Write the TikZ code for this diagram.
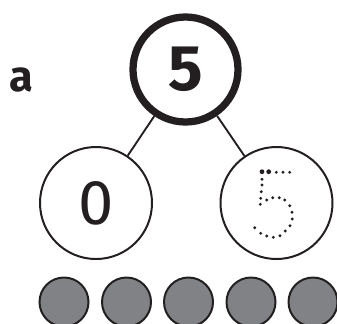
\documentclass[tikz,border=0pt]{standalone}
\usepackage{fontspec}
\setmainfont{Fira Sans}
\usetikzlibrary{positioning}

\definecolor{ink}{HTML}{231F20}
\definecolor{counter}{HTML}{808285}

\begin{document}
\begin{tikzpicture}[
    x=0.03cm, y=-0.03cm,
    whole/.style={draw=ink, circle, line width=6.2pt, minimum size=3.15cm, inner sep=0pt, font=\fontsize{55}{55}\selectfont\bfseries, text=ink},
    part/.style={draw=ink, circle, line width=1.7pt, fill=white, minimum size=3.36cm, inner sep=0pt, font=\fontsize{54}{54}\selectfont, text=ink},
    bead/.style={draw=ink, circle, line width=1.7pt, fill=counter, minimum size=1.47cm, inner sep=0pt},
    link/.style={draw=ink, line width=1.6pt},
    tracedot/.style={fill=ink},
]
\useasboundingbox (0,0) rectangle (337,323);

% Question letter
\node[font=\fontsize{37}{37}\selectfont\bfseries, text=ink] (qlabel) at (21,80) {a};

% Whole and parts
\node[whole] (top) at (185.5,69.5) {5};
\node[part] (left) at (96,203) {0};
\node[part] (right) at (276.5,203) {};

% Links
\draw[link] (top) -- (left);
\draw[link] (top) -- (right);

% Dotted 5 for tracing
\foreach \x/\y in {262/171.7, 268.7/171.7}
    \fill[tracedot] (\x,\y) circle (2.4);
\foreach \x/\y in {276.3/172.3, 283/172.3, 289.7/172.3, 262/179.3, 262/185,
    261.3/191.7, 260.7/198.3, 260.3/204.3, 266.7/200, 272.7/197.7,
    279.3/197.7, 284.7/200, 289.7/205.7, 292/212.3, 292.3/219,
    290/225.7, 285.3/231, 280/235.7, 273.3/237.3, 266.7/236,
    260.7/233.3, 254.7/227.7}
    \fill[tracedot] (\x,\y) circle (1.6);

% Counters
\foreach \i/\x in {1/64, 2/126.5, 3/188.5, 4/251, 5/313}
    \node[bead] (bead\i) at (\x,302) {};

\end{tikzpicture}
\end{document}
